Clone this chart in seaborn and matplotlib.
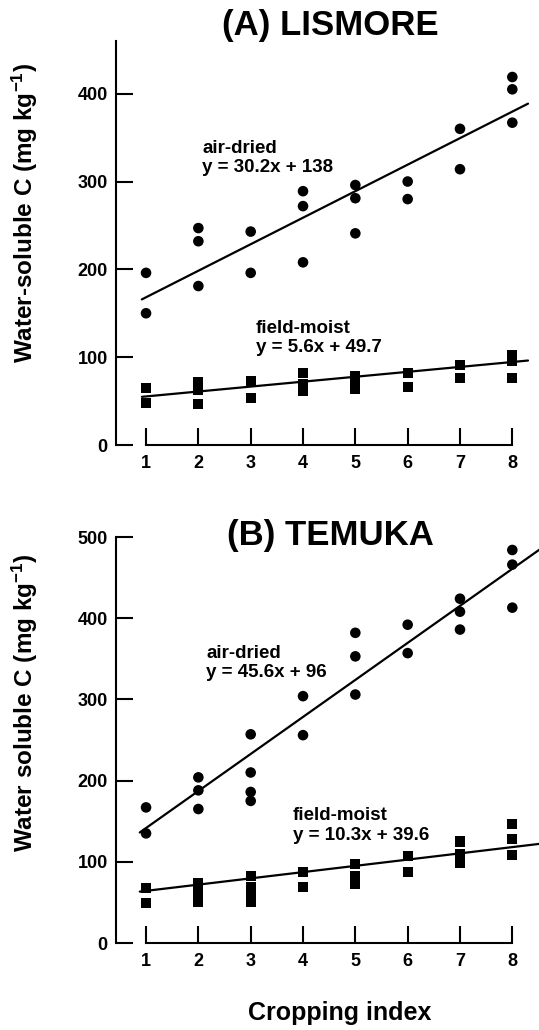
import numpy as np
import pandas as pd
import matplotlib
matplotlib.use("Agg")
import matplotlib.pyplot as plt
import seaborn as sns

# ---------------- data ----------------
cropping_ticks = [1, 2, 3, 4, 5, 6, 7, 8]

lismore_air_x = [1, 1, 2, 2, 2, 3, 3, 4, 4, 4, 5, 5, 5, 6, 6, 7, 7, 8, 8, 8]
lismore_air_y = [196, 150, 247, 232, 181, 243, 196, 289, 272, 208, 296, 281, 241,
                 300, 280, 360, 314, 419, 405, 367]
lismore_moist_x = [1, 1, 2, 2, 2, 3, 3, 4, 4, 4, 5, 5, 5, 6, 6, 7, 7, 8, 8, 8]
lismore_moist_y = [65, 48, 72, 63, 47, 73, 54, 82, 70, 61, 78, 71, 64,
                   82, 66, 91, 76, 103, 96, 76]

temuka_air_x = [1, 1, 2, 2, 2, 3, 3, 3, 3, 4, 4, 5, 5, 5, 6, 6, 7, 7, 7, 8, 8, 8]
temuka_air_y = [167, 135, 204, 188, 165, 257, 210, 186, 175, 304, 256, 382, 353, 306,
                392, 357, 424, 408, 386, 484, 466, 413]
temuka_moist_x = [1, 1, 2, 2, 2, 3, 3, 3, 3, 4, 4, 5, 5, 5, 6, 6, 7, 7, 7, 8, 8, 8]
temuka_moist_y = [68, 49, 74, 62, 51, 83, 69, 60, 51, 87, 69, 97, 82, 73,
                  107, 87, 125, 109, 99, 147, 128, 108]

# fitted lines as drawn (slope, intercept)
lismore_fit_air = (30.2, 138.0)
lismore_fit_moist = (5.6, 49.7)
temuka_fit_air = (45.6, 96.0)
temuka_fit_moist = (7.7, 56.5)

lismore_eq_air = "y = 30.2x + 138"
lismore_eq_moist = "y = 5.6x + 49.7"
temuka_eq_air = "y = 45.6x + 96"
temuka_eq_moist = "y = 10.3x + 39.6"

# ---------------- style ----------------
sns.set_theme(style="ticks")
plt.rcParams['font.family'] = ['Liberation Sans', 'DejaVu Sans']
plt.rcParams['font.weight'] = 'bold'
plt.rcParams['text.color'] = 'black'
plt.rcParams['axes.labelcolor'] = 'black'
plt.rcParams['mathtext.fontset'] = 'custom'
plt.rcParams['mathtext.rm'] = 'Liberation Sans:bold'
plt.rcParams['mathtext.bf'] = 'Liberation Sans:bold'
plt.rcParams['mathtext.it'] = 'Liberation Sans:bold'
plt.rcParams['mathtext.default'] = 'rm'

W, H = 539, 1030
fig = plt.figure(figsize=(W / 100, H / 100), dpi=100)
fig.patch.set_facecolor('white')


def px_axes(left, right, top, bottom):
    return fig.add_axes([left / W, 1 - bottom / H, (right - left) / W, (bottom - top) / H])


ax1 = px_axes(116, 539, 41, 445)
ax2 = px_axes(116, 539, 537, 943)


def draw_panel(ax, air_x, air_y, moist_x, moist_y, fit_air, fit_moist, ytop,
               yticks, line_x, eq_air, eq_moist, air_pos, moist_pos):
    air = pd.DataFrame({'x': air_x, 'y': air_y})
    moist = pd.DataFrame({'x': moist_x, 'y': moist_y})
    xs = np.array(line_x)
    sns.lineplot(x=xs, y=fit_air[0] * xs + fit_air[1], color='black', lw=1.6, ax=ax)
    sns.lineplot(x=xs, y=fit_moist[0] * xs + fit_moist[1], color='black', lw=1.6, ax=ax)
    sns.scatterplot(data=air, x='x', y='y', marker='o', s=58, color='black',
                    edgecolor='none', ax=ax, zorder=3)
    sns.scatterplot(data=moist, x='x', y='y', marker='s', s=52, color='black',
                    edgecolor='none', ax=ax, zorder=3)
    ax.set_xlim(0.426, 8.51)
    ax.set_ylim(0, ytop)
    ax.set_facecolor('white')
    for s in ['top', 'right']:
        ax.spines[s].set_visible(False)
    ax.spines['bottom'].set_bounds(1, 8)
    ax.spines['left'].set_bounds(0, ytop)
    for s in ['bottom', 'left']:
        ax.spines[s].set_linewidth(1.5)
        ax.spines[s].set_color('black')
    ax.set_xticks(cropping_ticks)
    ax.set_xticklabels([str(t) for t in cropping_ticks])
    ax.set_yticks(yticks)
    ax.set_yticklabels([str(t) for t in yticks])
    ax.tick_params(axis='x', direction='in', length=12, width=1.5, pad=7,
                   labelsize=13, colors='black')
    ax.tick_params(axis='y', direction='in', length=12, width=1.5, pad=6,
                   labelsize=13, colors='black')
    for lab in ax.get_xticklabels() + ax.get_yticklabels():
        lab.set_fontweight('bold')
    ax.set_xlabel('')
    ax.set_ylabel('')
    ax.text(air_pos[0], air_pos[1], "air-dried\n" + eq_air, ha='left', va='center',
            fontsize=13.5, fontweight='bold', linespacing=1.2)
    ax.text(moist_pos[0], moist_pos[1], "field-moist\n" + eq_moist, ha='left',
            va='center', fontsize=13.5, fontweight='bold', linespacing=1.2)


draw_panel(ax1, lismore_air_x, lismore_air_y, lismore_moist_x, lismore_moist_y,
           lismore_fit_air, lismore_fit_moist, 460, [0, 100, 200, 300, 400],
           [0.92, 8.3], lismore_eq_air, lismore_eq_moist, (2.07, 327), (3.1, 122))
draw_panel(ax2, temuka_air_x, temuka_air_y, temuka_moist_x, temuka_moist_y,
           temuka_fit_air, temuka_fit_moist, 500, [0, 100, 200, 300, 400, 500],
           [0.88, 8.6], temuka_eq_air, temuka_eq_moist, (2.15, 345), (3.81, 145))

fig.text(330 / W, 1 - 25 / H, "(A) LISMORE", ha='center', va='center',
         fontsize=25, fontweight='bold')
fig.text(330 / W, 1 - 535 / H, "(B) TEMUKA", ha='center', va='center',
         fontsize=25, fontweight='bold')

fig.text(25 / W, 1 - 213 / H, r"Water-soluble C (mg kg$^{-1}$)", rotation=90,
         ha='center', va='center', fontsize=17.5, fontweight='bold')
fig.text(25 / W, 1 - 703 / H, r"Water soluble C (mg kg$^{-1}$)", rotation=90,
         ha='center', va='center', fontsize=17.5, fontweight='bold')
fig.text(340 / W, 1 - 1020 / H, "Cropping index", ha='center', va='baseline',
         fontsize=18, fontweight='bold')

fig.savefig("out.png", dpi=100, facecolor='white')
